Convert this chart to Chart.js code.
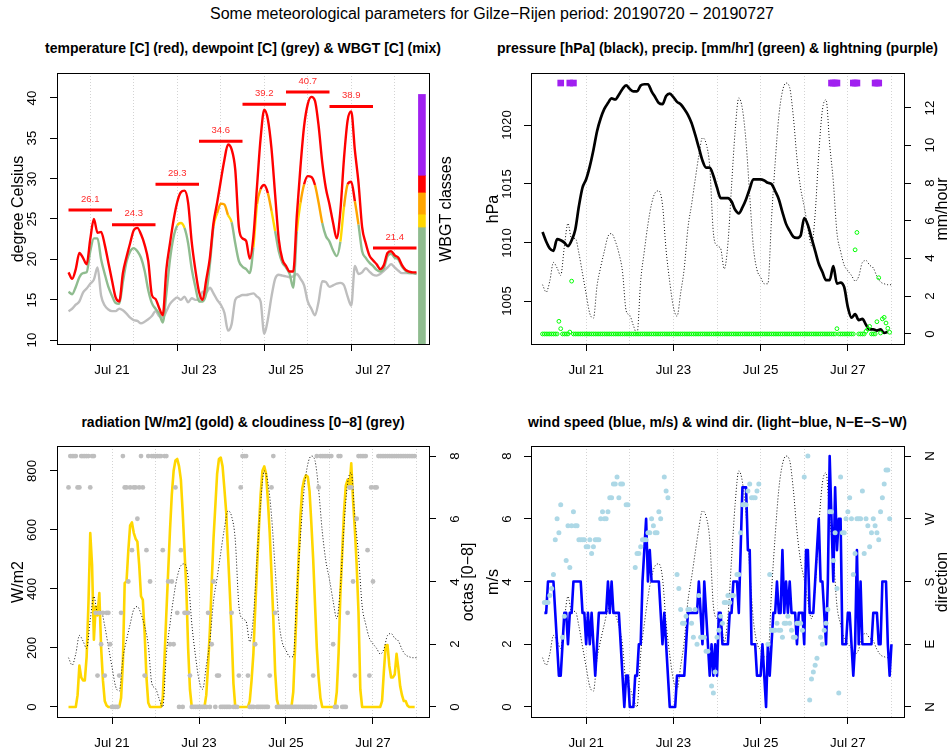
<!DOCTYPE html>
<html>
<head>
<meta charset="utf-8">
<script src="https://cdn.jsdelivr.net/npm/chart.js@4"></script>
<style>
  body { margin: 0; background: #fff; }
  #page { position: relative; width: 949px; height: 753px; overflow: hidden;
          font-family: "Liberation Sans", Arial, Helvetica, sans-serif; color: #000; }
  canvas { position: absolute; }
  .lbl { position: absolute; white-space: nowrap; line-height: 1; transform: translate(-50%, -50%); z-index: 2; }
  .rot { transform: translate(-50%, -50%) rotate(-90deg); }
  .main { font-size: 16px; }
  .ptitle { font-size: 14px; font-weight: bold; }
  .axt { font-size: 16px; }
  .tick { font-size: 13.3px; }
</style>
</head>
<body>
<div id="page">
  <div class="lbl main" style="left:492px;top:14px">Some meteorological parameters for Gilze−Rijen period: 20190720 − 20190727</div>

  <div class="lbl ptitle" style="left:243px;top:48px">temperature [C] (red), dewpoint [C] (grey) &amp; WBGT [C] (mix)</div>
  <div class="lbl ptitle" style="left:717.5px;top:48px">pressure [hPa] (black), precip. [mm/hr] (green) &amp; lightning (purple)</div>
  <div class="lbl ptitle" style="left:243px;top:421.5px">radiation [W/m2] (gold) &amp; cloudiness [0−8] (grey)</div>
  <div class="lbl ptitle" style="left:717.5px;top:421.5px">wind speed (blue, m/s) &amp; wind dir. (light−blue, N−E−S−W)</div>

  <div class="lbl axt rot" style="left:18px;top:208.5px">degree Celsius</div>
  <div class="lbl axt rot" style="left:446px;top:208.5px">WBGT classes</div>
  <div class="lbl axt rot" style="left:493px;top:208.5px">hPa</div>
  <div class="lbl axt rot" style="left:942px;top:208.5px">mm/hour</div>
  <div class="lbl axt rot" style="left:18px;top:581.5px">W/m2</div>
  <div class="lbl axt rot" style="left:468px;top:581.5px">octas [0−8]</div>
  <div class="lbl axt rot" style="left:493px;top:581.5px">m/s</div>
  <div class="lbl axt rot" style="left:942px;top:581.5px">direction</div>

  <canvas id="tempChart" width="475" height="328" style="left:0px;top:62px"></canvas>
  <canvas id="pressChart" width="474" height="328" style="left:475px;top:62px"></canvas>
  <canvas id="radChart" width="475" height="318" style="left:0px;top:435px"></canvas>
  <canvas id="windChart" width="474" height="318" style="left:475px;top:435px"></canvas>
</div>

<script>
// time axis: hours since 2019-07-20 00:00
const dayTicks = [24, 48, 72, 96, 120, 144, 168, 192];
const dayLabels = ["Jul 21", "", "Jul 23", "", "Jul 25", "", "Jul 27", ""];

// sampling grids
const hours2 = [];
for (let h = 0; h <= 192; h += 2) hours2.push(h);
const hourly = [];
for (let h = 0; h < 192; h++) hourly.push(h);
const windHours = [];
for (let h = 1; h <= 192; h++) windHours.push(h);

// TEMPERATURE PANEL (2-hourly)
const temperature = [
  18.4, 17.6, 18.8, 20.8, 20.2, 19.4, 22.5, 25.0, 23.3, 23.4, 21.8, 19.6,
  17.4, 15.3, 14.8, 18.3, 20.3, 22.0, 23.6, 23.9, 23.1, 21.8, 19.8, 15.6,
  15.1, 14.0, 13.1, 18.8, 22.0, 24.9, 27.1, 28.3, 28.5, 27.0, 22.1, 18.7,
  16.0, 15.0, 17.5, 20.2, 24.5, 27.0, 29.7, 32.3, 34.2, 33.6, 31.1, 24.0,
  22.6, 22.3, 20.1, 22.8, 29.0, 35.0, 38.5, 37.3, 33.7, 28.0, 22.5, 20.0,
  19.2, 18.5, 18.5, 25.5, 31.5, 36.5, 39.2, 40.1, 39.6, 36.5, 32.0, 28.8,
  26.8, 24.5, 22.6, 26.0, 32.5, 37.2, 38.3, 33.5, 29.5, 24.0, 22.0, 20.5,
  19.9, 19.4, 18.8, 19.3, 20.8, 21.0, 20.5, 20.2, 19.3, 18.7, 18.5, 18.4,
  18.4
];
const dewpoint = [
  13.6, 13.9, 14.4, 14.8, 15.9, 16.4, 17.0, 17.5, 19.0, 15.5, 14.3, 13.8,
  13.6, 13.6, 13.9, 13.7, 13.3, 12.8, 12.5, 12.4, 12.1, 12.3, 12.6, 13.0,
  13.6, 13.0, 12.8, 13.6, 14.5, 15.0, 15.3, 15.0, 15.4, 14.7, 15.2, 15.0,
  15.0, 16.0, 15.9, 16.5, 15.8, 15.0, 14.4, 13.4, 11.2, 12.0, 15.0, 15.4,
  15.6, 15.6, 15.7, 15.8, 15.4, 14.8, 10.8, 12.6, 15.4, 17.6, 18.1, 18.0,
  17.9, 17.8, 17.9, 18.2, 17.6, 16.8, 14.8, 13.9, 13.1, 14.8, 17.3, 17.2,
  16.6, 16.8, 17.0, 17.1, 16.8, 15.4, 14.3, 19.2, 18.2, 18.4, 18.9, 18.5,
  18.1, 18.0, 18.2, 18.6, 19.0, 19.4, 19.0, 18.6, 18.3, 18.3, 18.3, 18.3,
  18.2
];
const wbgt = [
  16.0, 15.7, 16.6, 17.8, 18.3, 18.4, 21.0, 22.6, 22.6, 20.0, 18.2, 16.6,
  15.5, 14.6, 14.5, 17.2, 19.7, 21.0, 21.4, 21.0, 20.2, 18.6, 16.2, 14.6,
  13.9, 13.3, 12.2, 15.8, 20.0, 22.8, 24.2, 24.5, 23.9, 22.0, 18.8, 16.6,
  14.8, 14.8, 15.8, 19.4, 24.1, 25.7, 26.9, 26.8, 25.5, 24.6, 22.0, 19.8,
  19.1, 18.8, 18.3, 21.5, 26.8, 28.7, 29.2, 28.2, 26.0, 23.5, 21.0, 19.6,
  19.0, 18.2, 16.5, 23.5, 27.0, 29.3, 30.3, 30.2, 29.2, 27.0, 24.5, 22.9,
  22.2, 21.1, 20.4, 22.2, 26.5, 29.3, 29.6, 27.2, 24.3, 21.0, 20.2, 19.6,
  19.2, 18.7, 18.5, 18.9, 20.4, 20.7, 20.2, 20.0, 19.1, 18.6, 18.3, 18.3,
  18.2
];
const dailyMax = [26.1, 24.3, 29.3, 34.6, 39.2, 40.7, 38.9, 21.4];
const wbgtClassBounds = [9.5, 24.0, 25.6, 28.3, 30.4, 40.4];
const wbgtClassColors = ["#8fbc8f", "#ffd700", "#ffa500", "#ff0000", "#a020f0"];
const wbgtBarHour = 195;

// PRESSURE PANEL
const pressure = [
  1010.9, 1010.1, 1009.5, 1009.3, 1010.3, 1010.2, 1010.0, 1009.7, 1010.2, 1011.1, 1013.1, 1014.7,
  1015.4, 1016.5, 1017.9, 1019.5, 1020.6, 1021.4, 1021.9, 1022.3, 1022.2, 1022.6, 1023.1, 1023.4,
  1023.1, 1022.9, 1022.9, 1023.4, 1023.5, 1023.5, 1022.9, 1022.4, 1021.9, 1021.8, 1022.5, 1022.7,
  1022.4, 1022.0, 1021.8, 1021.4, 1020.9, 1020.2, 1019.2, 1018.1, 1017.0, 1016.4, 1016.4, 1015.7,
  1014.7, 1013.8, 1013.8, 1013.8, 1013.5, 1012.8, 1012.5, 1013.0, 1013.7, 1014.6, 1015.4, 1015.4,
  1015.4, 1015.3, 1015.1, 1015.0, 1014.4, 1013.7, 1012.6, 1011.6, 1011.0, 1010.5, 1010.4, 1010.6,
  1012.1, 1011.5, 1010.4, 1009.3, 1008.2, 1007.5, 1006.8, 1006.8, 1008.0, 1006.5, 1006.6, 1006.2,
  1004.5, 1003.6, 1003.9, 1003.4, 1003.5, 1003.0, 1002.6, 1002.6, 1002.5, 1002.6, 1002.3, 1002.4,
  null
];
const precipitation = [
  0, 0, 0, 0, 0, 0, 0, 0, 0, 0.67, 0.28, 0, 0, 0, 0, 0.1, 2.8, 0, 0, 0, 0, 0, 0, 0,
  0, 0, 0, 0, 0, 0, 0, 0, 0, 0, 0, 0, 0, 0, 0, 0, 0, 0, 0, 0, 0, 0, 0, 0,
  0, 0, 0, 0, 0, 0, 0, 0, 0, 0, 0, 0, 0, 0, 0, 0, 0, 0, 0, 0, 0, 0, 0, 0,
  0, 0, 0, 0, 0, 0, 0, 0, 0, 0, 0, 0, 0, 0, 0, 0, 0, 0, 0, 0, 0, 0, 0, 0,
  0, 0, 0, 0, 0, 0, 0, 0, 0, 0, 0, 0, 0, 0, 0, 0, 0, 0, 0, 0, 0, 0, 0, 0,
  0, 0, 0, 0, 0, 0, 0, 0, 0, 0, 0, 0, 0, 0, 0, 0, 0, 0, 0, 0, 0, 0, 0, 0,
  0, 0, 0, 0, 0, 0, 0, 0, 0, 0, 0, 0, 0, 0, 0, 0, 0, 0, 0.28, 0, 0, 0, 0, 0,
  0, 0, 0, 0, 4.46, 5.38, 0, 0, 0, 0, 0.14, 0.26, 0.4, 0, 0, 0, 0.65, 2.98, 0.05, 0.8, 0.88, 0.58, 0.3, 0.09
];
const lightningHours = [10, 15, 17, 159, 160, 161, 162, 171, 172, 173, 183, 184, 185];
const lightningLevel = 13.3;

// RADIATION PANEL (hourly)
const radiation = [
  0, 0, 0, 0, 0, 40, 140, 100, 90, 90, 170, 350, 589, 480, 228, 340, 310, 386, 200, 90, 20, 5, 0, 0,
  0, 0, 0, 0, 0, 30, 150, 420, 425, 530, 615, 625, 590, 570, 560, 480, 375, 363, 250, 100, 14, 0, 0, 0,
  0, 0, 0, 0, 30, 170, 320, 460, 600, 720, 800, 835, 840, 815, 770, 660, 530, 400, 200, 60, 0, 0, 0, 0,
  0, 0, 0, 0, 40, 140, 260, 420, 570, 680, 790, 840, 845, 815, 740, 660, 520, 390, 250, 80, 0, 0, 0, 0,
  0, 0, 0, 0, 20, 90, 180, 330, 470, 600, 720, 800, 815, 790, 700, 590, 450, 300, 120, 25, 0, 0, 0, 0,
  0, 0, 0, 0, 50, 200, 350, 510, 650, 740, 770, 785, 780, 730, 620, 500, 350, 200, 100, 30, 0, 0, 0, 0,
  0, 0, 0, 0, 50, 180, 380, 520, 660, 750, 770, 740, 825, 700, 600, 480, 320, 60, 0, 0, 0, 0, 0, 0,
  0, 0, 0, 0, 0, 20, 120, 208, 210, 140, 100, 100, 110, 180, 130, 70, 40, 20, 20, 5, 0, 0, 0, 0
];
const cloudiness = [
  7, 8, 8, 8, 8, 7, 7, 8, 8, 8, 8, 8, 7, 8, 8, 3, 1, 3, 2, 3, 1, 3, 3, 2,
  0, 0, 0, 0, 1, 3, 8, 7, 7, 4, 7, 5, 7, 7, 6, 7, 8, 7, 1, 5, 8, 4, 8, 8,
  8, 8, 8, 8, 5, 8, 8, 4, 2, 4, 2, 7, 3, 0, 5, 0, 3, 3, 3, 1, 0, 0, 0, 0,
  0, 0, 0, 0, 0, 3, 0, 2, 4, 0, 1, 1, 0, 0, 0, 0, 0, 0, 3, 0, 0, 0, 1, 7,
  8, 8, 8, 1, 0, 0, 0, 2, 0, 0, 0, 0, 0, 0, 0, 1, 7, 8, 3, 0, 0, 0, 0, 0,
  0, 0, 0, 0, 0, 0, 0, 0, 0, 0, 0, 0, 0, 0, 0, 1, 0, 8, 7, 8, 8, 8, 8, 8,
  8, 8, 2, 0, 0, 8, 8, 0, 0, 0, 3, 7, 7, 4, 1, 6, 8, 8, 8, 8, 8, 5, 1, 7,
  4, 7, 7, 8, 8, 8, 8, 8, 8, 8, 8, 8, 8, 8, 8, 8, 8, 8, 8, 8, 8, 8, 8, 8
];

// WIND PANEL
const windSpeed = [
  3, 3, 4, 4, 4, 4, 3, 2, 1, 1, 2, 3, 3, 2, 3, 3, 4, 4, 4, 4, 4, 3, 3, 2,
  3, 2, 3, 2, 1, 2, 3, 3, 3, 3, 3, 4, 3, 4, 3, 3, 3, 3, 2, 1, 0, 1, 1, 0,
  0, 0, 1, 1, 2, 2, 4, 5, 6, 4, 5, 4, 4, 4, 4, 4, 3, 2, 3, 2, 1, 0, 0, 0,
  0, 1, 1, 1, 1, 1, 2, 3, 3, 3, 3, 3, 3, 4, 3, 2, 4, 3, 2, 1, 2, 1, 2, 1,
  3, 3, 2, 2, 2, 2, 3, 3, 4, 4, 4, 3, 5, 7, 7, 7, 5, 5, 2, 2, 2, 1, 1, 1,
  2, 1, 0, 2, 1, 2, 3, 3, 4, 3, 3, 5, 3, 4, 3, 4, 3, 3, 3, 2, 3, 3, 3, 2,
  5, 5, 3, 3, 3, 4, 5, 6, 4, 4, 3, 2, 4, 8, 6, 4, 7, 5, 6, 6, 2, 2, 2, 3,
  3, 2, 1, 2, 5, 2, 4, 2, 2, 2, 2, 2, 2, 3, 3, 3, 2, 2, 4, 4, 4, 2, 1, 2
];
const windDirHours = [
  1, 2, 3, 4, 5, 6, 7, 8, 9, 10, 11, 12, 13, 14, 15, 16, 17, 18, 19, 20, 21, 22, 23,
  24, 25, 26, 27, 28, 29, 30, 31, 32, 33, 34, 35, 36, 37, 38, 39, 40, 41, 42, 43, 44, 46, 47,
  51, 52, 53, 54, 55, 56, 57, 58, 59, 60, 61, 62, 63, 64, 65, 67, 68, 69,
  74, 75, 76, 77, 78, 79, 80, 81, 82, 83, 84, 85, 86, 87, 88, 89, 90, 91, 93, 94, 95,
  96, 97, 98, 99, 100, 101, 102, 103, 104, 105, 107, 108, 109, 110, 111, 112, 113, 114, 115, 116, 117, 118, 119,
  124, 125, 126, 127, 128, 129, 130, 131, 132, 133, 134, 135, 136, 137, 138, 139, 140, 141, 142, 143,
  144, 146, 147, 148, 149, 150, 151, 153, 154, 155, 156, 157, 158, 159, 160, 161, 162, 163, 164, 165, 166, 167,
  168, 169, 170, 171, 172, 173, 174, 175, 176, 177, 178, 179, 180, 181, 182, 183, 184, 185, 186, 187, 188, 189, 190, 191
];
const windDir = [
  150, 150, 150, 160, 170, 190, 240, 270, 250, 290, 100, 130, 210, 260, 200, 260, 280, 260, 260, 240, 240, 240, 240,
  230, 230, 240, 220, 230, 240, 240, 240, 270, 280, 270, 270, 280, 300, 300, 320, 320, 330, 300, 320, 320, 290, 290,
  200, 220, 220, 230, 240, 240, 240, 250, 250, 270, 260, 250, 250, 280, 270, 330, 310, 300,
  190, 170, 140, 120, 120, 130, 140, 140, 120, 100, 140, 90, 160, 100, 100, 100, 80, 80, 30, 20, 50,
  100, 110, 130, 120, 150, 150, 160, 150, 160, 160, 190, 190, 250, 290, 290, 290, 310, 320, 300, 300, 300, 310, 320,
  90, 190, 110, 110, 110, 120, 110, 110, 100, 120, 120, 130, 120, 110, 100, 100, 120, 120, 120, 110,
  330, 360, 10, 40, 50, 60, 70, 100, 90, 110, 120, 140, 280, 280, 210, 250, 170, 20, 330, 250, 250, 270,
  280, 300, 270, 190, 220, 270, 270, 270, 310, 220, 270, 260, 230, 250, 270, 260, 250, 240, 280, 300, 320, 340, 340, 270
];
const dirLabels = ["N", "E", "S", "W", "N"];

// ---------------------------------------------------------------
const FONT = '"Liberation Sans", Arial, Helvetica, sans-serif';
Chart.defaults.font.family = FONT;
Chart.defaults.font.size = 13.3;
Chart.defaults.color = "#000";
Chart.defaults.animation = false;
Chart.defaults.responsive = false;
Chart.defaults.events = [];
Chart.defaults.plugins.legend.display = false;
Chart.defaults.plugins.tooltip.enabled = false;
Chart.defaults.elements.point.radius = 0;
Chart.defaults.elements.line.tension = 0;
Chart.defaults.elements.line.borderJoinStyle = "round";

const X_MIN = -6.35, X_MAX = 198.9;
const pts = (xs, ys) => xs.map((x, i) => ({ x: x, y: ys[i] }));

const tMin = Math.min(...temperature), tMax = Math.max(...temperature);
const tPad = 0.04 * (tMax - tMin);
const tempShadowAxis = { type: "linear", display: false, min: tMin - tPad, max: tMax + tPad };

function timeAxis(height) {
  return {
    type: "linear", position: "bottom", min: X_MIN, max: X_MAX, offset: false,
    afterBuildTicks: s => { s.ticks = dayTicks.map(v => ({ value: v })); },
    afterFit: s => { s.height = height; },
    ticks: { autoSkip: false, maxRotation: 0, minRotation: 0, padding: 11, callback: (v, i) => dayLabels[i] },
    grid: {
      color: "#d3d3d3", lineWidth: 1, drawTicks: true, tickLength: 7, tickWidth: 1, tickBorderDash: [],
      tickColor: c => (dayLabels[c.index] ? "#000" : "rgba(0,0,0,0)")
    },
    border: { display: false, dash: [1, 2] }
  };
}

function valueAxis(o) {
  return {
    type: "linear", position: o.position || "left", min: o.min, max: o.max,
    afterBuildTicks: s => { s.ticks = o.ticks.map(v => ({ value: v })); },
    afterFit: s => { s.width = o.width; },
    ticks: { display: false },
    grid: { drawOnChartArea: false, drawTicks: true, tickLength: 7, tickColor: "#000", tickWidth: 1 },
    border: { display: false }
  };
}

// plot frame
const boxPlugin = {
  id: "box",
  afterDraw(chart) {
    const { ctx, chartArea: a } = chart;
    ctx.save();
    ctx.strokeStyle = "#000";
    ctx.lineWidth = 1;
    ctx.strokeRect(Math.round(a.left) + 0.5, Math.round(a.top) + 0.5,
      Math.round(a.right - a.left), Math.round(a.bottom - a.top));
    ctx.restore();
  }
};

// tick labels parallel to the axis (as in R), placed from the chart's own scales
function sideLabels(chart, specs) {
  const page = document.getElementById("page");
  const cv = chart.canvas;
  const left = parseFloat(cv.style.left), top = parseFloat(cv.style.top);
  specs.forEach(s => {
    const scale = chart.scales[s.axis];
    scale.ticks.forEach((t, i) => {
      const d = document.createElement("div");
      d.className = "lbl rot tick";
      d.textContent = s.labels ? s.labels[i] : String(t.value);
      d.style.left = (left + s.x) + "px";
      d.style.top = (top + scale.getPixelForValue(t.value)) + "px";
      page.appendChild(d);
    });
  });
}

const dailyMaxLabels = {
  id: "dailyMaxLabels",
  afterDatasetsDraw(chart) {
    const { ctx, scales: { x, y } } = chart;
    ctx.save();
    ctx.font = "9.5px " + FONT;
    ctx.fillStyle = "#ff2a2a";
    ctx.textAlign = "center";
    ctx.textBaseline = "middle";
    dailyMax.forEach((v, i) => {
      ctx.fillText(v.toFixed(1), x.getPixelForValue(24 * i + 12), y.getPixelForValue(v) - 11);
    });
    ctx.restore();
  }
};

const wbgtClassColor = v => {
  let k = 0;
  while (k < wbgtClassColors.length - 1 && v >= wbgtClassBounds[k + 1]) k++;
  return wbgtClassColors[k];
};

const dotted = data => ({
  data: data, yAxisID: "yT", borderColor: "#111", borderWidth: 1, borderDash: [1, 2],
  cubicInterpolationMode: "monotone"
});

// DAILY MAX SEGMENTS
const dailyMaxSegments = [];
dailyMax.forEach((v, i) => {
  dailyMaxSegments.push({ x: 24 * i, y: v }, { x: 24 * (i + 1), y: v }, { x: 24 * (i + 1), y: null });
});

// TEMPERATURE CHART
const tempChart = new Chart(document.getElementById("tempChart"), {
  type: "line",
  data: {
    datasets: [
      { data: dailyMaxSegments, borderColor: "#ff0000", borderWidth: 3, spanGaps: false },
      { data: pts(hours2, temperature), borderColor: "#ff0000", borderWidth: 2.4, cubicInterpolationMode: "monotone" },
      {
        data: pts(hours2, wbgt), borderColor: wbgtClassColors[0], borderWidth: 2.4, cubicInterpolationMode: "monotone",
        segment: { borderColor: c => wbgtClassColor((c.p0.parsed.y + c.p1.parsed.y) / 2) }
      },
      { data: pts(hours2, dewpoint), borderColor: "#bebebe", borderWidth: 2.4, cubicInterpolationMode: "monotone" },
      {
        type: "bar",
        data: wbgtClassColors.map((c, i) => ({ x: wbgtBarHour, y: [wbgtClassBounds[i], wbgtClassBounds[i + 1]] })),
        backgroundColor: wbgtClassColors, barThickness: 7, borderWidth: 0
      }
    ]
  },
  options: {
    layout: { padding: { top: 11, right: 46, left: 0, bottom: 0 } },
    scales: {
      x: timeAxis(46),
      y: valueAxis({ min: 9.54, max: 43.05, ticks: [10, 15, 20, 25, 30, 35, 40], width: 57 })
    }
  },
  plugins: [boxPlugin, dailyMaxLabels]
});
sideLabels(tempChart, [{ axis: "y", x: 32 }]);

// PRESSURE CHART
const pressChart = new Chart(document.getElementById("pressChart"), {
  type: "line",
  data: {
    datasets: [
      {
        data: lightningHours.map(h => ({ x: h, y: lightningLevel })), yAxisID: "yMM", showLine: false,
        pointStyle: "rect", pointRadius: 4.7, pointBackgroundColor: "#a020f0", pointBorderWidth: 0
      },
      {
        data: pts(hourly, precipitation), yAxisID: "yMM", showLine: false,
        pointRadius: 1.9, pointBorderColor: "#00ff00", pointBackgroundColor: "rgba(0,0,0,0)", pointBorderWidth: 1
      },
      { data: pts(hours2, pressure), yAxisID: "y", borderColor: "#000", borderWidth: 2.7, cubicInterpolationMode: "monotone" },
      dotted(pts(hours2, temperature))
    ]
  },
  options: {
    layout: { padding: { top: 11, right: 0, left: 0, bottom: 0 } },
    scales: {
      x: timeAxis(46),
      y: valueAxis({ min: 1001.36, max: 1024.46, ticks: [1005, 1010, 1015, 1020], width: 56 }),
      yMM: valueAxis({ position: "right", min: -0.532, max: 13.832, ticks: [0, 2, 4, 6, 8, 10, 12], width: 45 }),
      yT: tempShadowAxis
    }
  },
  plugins: [boxPlugin]
});
sideLabels(pressChart, [{ axis: "y", x: 32 }, { axis: "yMM", x: 455 }]);

// RADIATION CHART
const radChart = new Chart(document.getElementById("radChart"), {
  type: "line",
  data: {
    datasets: [
      {
        data: pts(hourly, cloudiness), yAxisID: "yOct", showLine: false,
        pointRadius: 2.4, pointBackgroundColor: "#bebebe", pointBorderWidth: 0
      },
      dotted(pts(hours2, temperature)),
      { data: pts(hourly, radiation), yAxisID: "y", borderColor: "#ffd700", borderWidth: 2.6 }
    ]
  },
  options: {
    layout: { padding: { top: 11, right: 0, left: 0, bottom: 0 } },
    scales: {
      x: timeAxis(36),
      y: valueAxis({ min: -34, max: 884, ticks: [0, 200, 400, 600, 800], width: 57 }),
      yOct: valueAxis({ position: "right", min: -0.32, max: 8.32, ticks: [0, 2, 4, 6, 8], width: 46 }),
      yT: tempShadowAxis
    }
  },
  plugins: [boxPlugin]
});
sideLabels(radChart, [{ axis: "y", x: 32 }, { axis: "yOct", x: 455 }]);

// WIND CHART
const windChart = new Chart(document.getElementById("windChart"), {
  type: "line",
  data: {
    datasets: [
      {
        data: pts(windDirHours, windDir), yAxisID: "yDir", showLine: false,
        pointRadius: 2.5, pointBackgroundColor: "#add8e6", pointBorderWidth: 0
      },
      { data: pts(windHours, windSpeed), yAxisID: "y", borderColor: "#0000ff", borderWidth: 2.6 },
      dotted(pts(hours2, temperature))
    ]
  },
  options: {
    layout: { padding: { top: 11, right: 0, left: 0, bottom: 0 } },
    scales: {
      x: timeAxis(36),
      y: valueAxis({ min: -0.32, max: 8.32, ticks: [0, 2, 4, 6, 8], width: 56 }),
      yDir: valueAxis({ position: "right", min: -14.4, max: 374.4, ticks: [0, 90, 180, 270, 360], width: 45 }),
      yT: tempShadowAxis
    }
  },
  plugins: [boxPlugin]
});
sideLabels(windChart, [{ axis: "y", x: 32 }, { axis: "yDir", x: 455, labels: dirLabels }]);
</script>
</body>
</html>
